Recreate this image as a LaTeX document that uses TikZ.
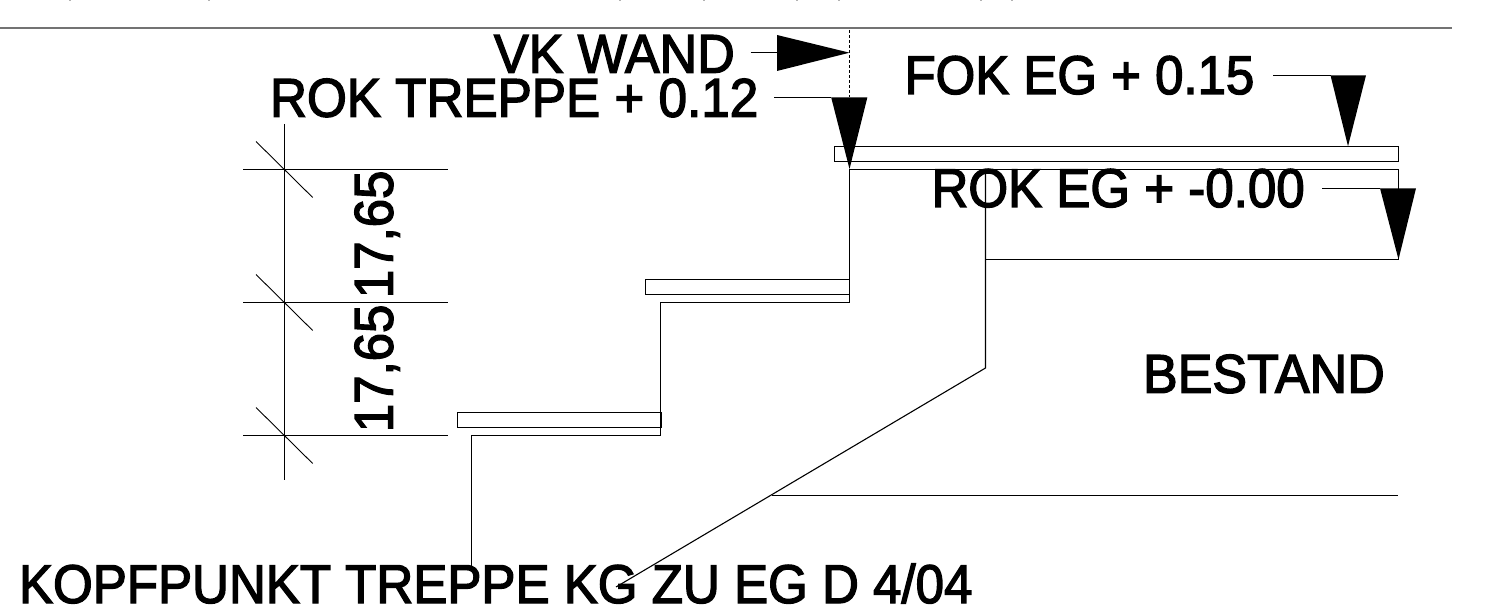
\documentclass[tikz,border=0pt]{standalone}
\usepackage{graphicx}
\usepackage{fontspec}
\setmainfont[FakeBold=2.6]{Liberation Sans}
\newcommand{\lbl}[5]{\node[cadtext,anchor=base west,rotate=#4] (#1) at #2 {\scalebox{#5}[1]{#3}};}
\tikzset{
  x=1pt,y=-1pt,
  cadtext/.style={inner sep=0pt,outer sep=0pt,text=black,font=\fontsize{54.5}{54.5}\selectfont},
  thin line/.style={draw=black,line width=1.1pt},
  rule line/.style={draw=black!55,line width=1.6pt},
  crop mark/.style={draw=black!30,line width=1.5pt},
  tip/.style={fill=black,draw=none},
}
\begin{document}
\begin{tikzpicture}
\useasboundingbox (0,0) rectangle (1485,609);
% remnants at the upper edge
\foreach \xx in {70,209,620,704,797,839,981,1012}{
  \draw[crop mark] (\xx,0) -- (\xx,.8);
}
% top rule
\draw[rule line] (0,28) -- (1451.6,28);
% dimension chain
\draw[thin line] (284.5,124) -- (284.5,480);
\foreach \yy in {169.5,302.5,435.5}{
  \draw[thin line] (243,\yy) -- (448,\yy);
  \draw[thin line,line width=.9pt] (256,\yy-28) -- (312.7,\yy+28);
}
% steps
\draw[thin line] (457.5,412.5) rectangle (661.5,427.5);
\draw[thin line] (645.5,279.5) rectangle (849.5,294.5);
\draw[thin line] (834.5,146.5) rectangle (1398.5,161.5);
\draw[thin line] (471.5,567) -- (471.5,435.5) -- (660.5,435.5) -- (660.5,302.5) -- (849.5,302.5) -- (849.5,169.5) -- (1398.5,169.5) -- (1398.5,259.5) -- (985.5,259.5);
\draw[thin line] (985.5,169.5) -- (985.5,368) -- (616,587);
\draw[thin line] (772,495.5) -- (1398,495.5);
\draw[thin line,densely dashed,line width=.8pt] (849.5,30) -- (849.5,97);
% markers
\draw[thin line] (750.5,52.5) -- (777,52.5);
\fill[tip] (777,35) -- (849.5,52.7) -- (777,71) -- cycle;
\draw[thin line] (774.2,97.5) -- (831.2,97.5);
\fill[tip] (831.2,97.5) -- (867.3,97.5) -- (849.5,169) -- cycle;
\draw[thin line] (1273,75.5) -- (1330.5,75.5);
\fill[tip] (1330.5,75.3) -- (1366,75.3) -- (1348,146.3) -- cycle;
\draw[thin line] (1322.4,188.5) -- (1380,188.5);
\fill[tip] (1380,188.3) -- (1416,188.3) -- (1398.5,259.5) -- cycle;
% labels
\lbl{vk}{(494,72.7)}{VK WAND}{0}{.954}
\lbl{rt}{(270,116.7)}{ROK TREPPE + 0.12}{0}{.94}
\lbl{fok}{(904.5,94)}{FOK EG + 0.15}{0}{.935}
\lbl{rok}{(931.5,207)}{ROK EG + -0.00}{0}{.937}
\lbl{best}{(1143,392.7)}{BESTAND}{0}{.954}
\lbl{kopf}{(19,603)}{KOPFPUNKT TREPPE KG ZU EG D 4/04}{0}{.937}
\lbl{dima}{(392.7,298)}{17,65}{90}{.934}
\lbl{dimb}{(392.7,432)}{17,65}{90}{.934}
\end{tikzpicture}
\end{document}
